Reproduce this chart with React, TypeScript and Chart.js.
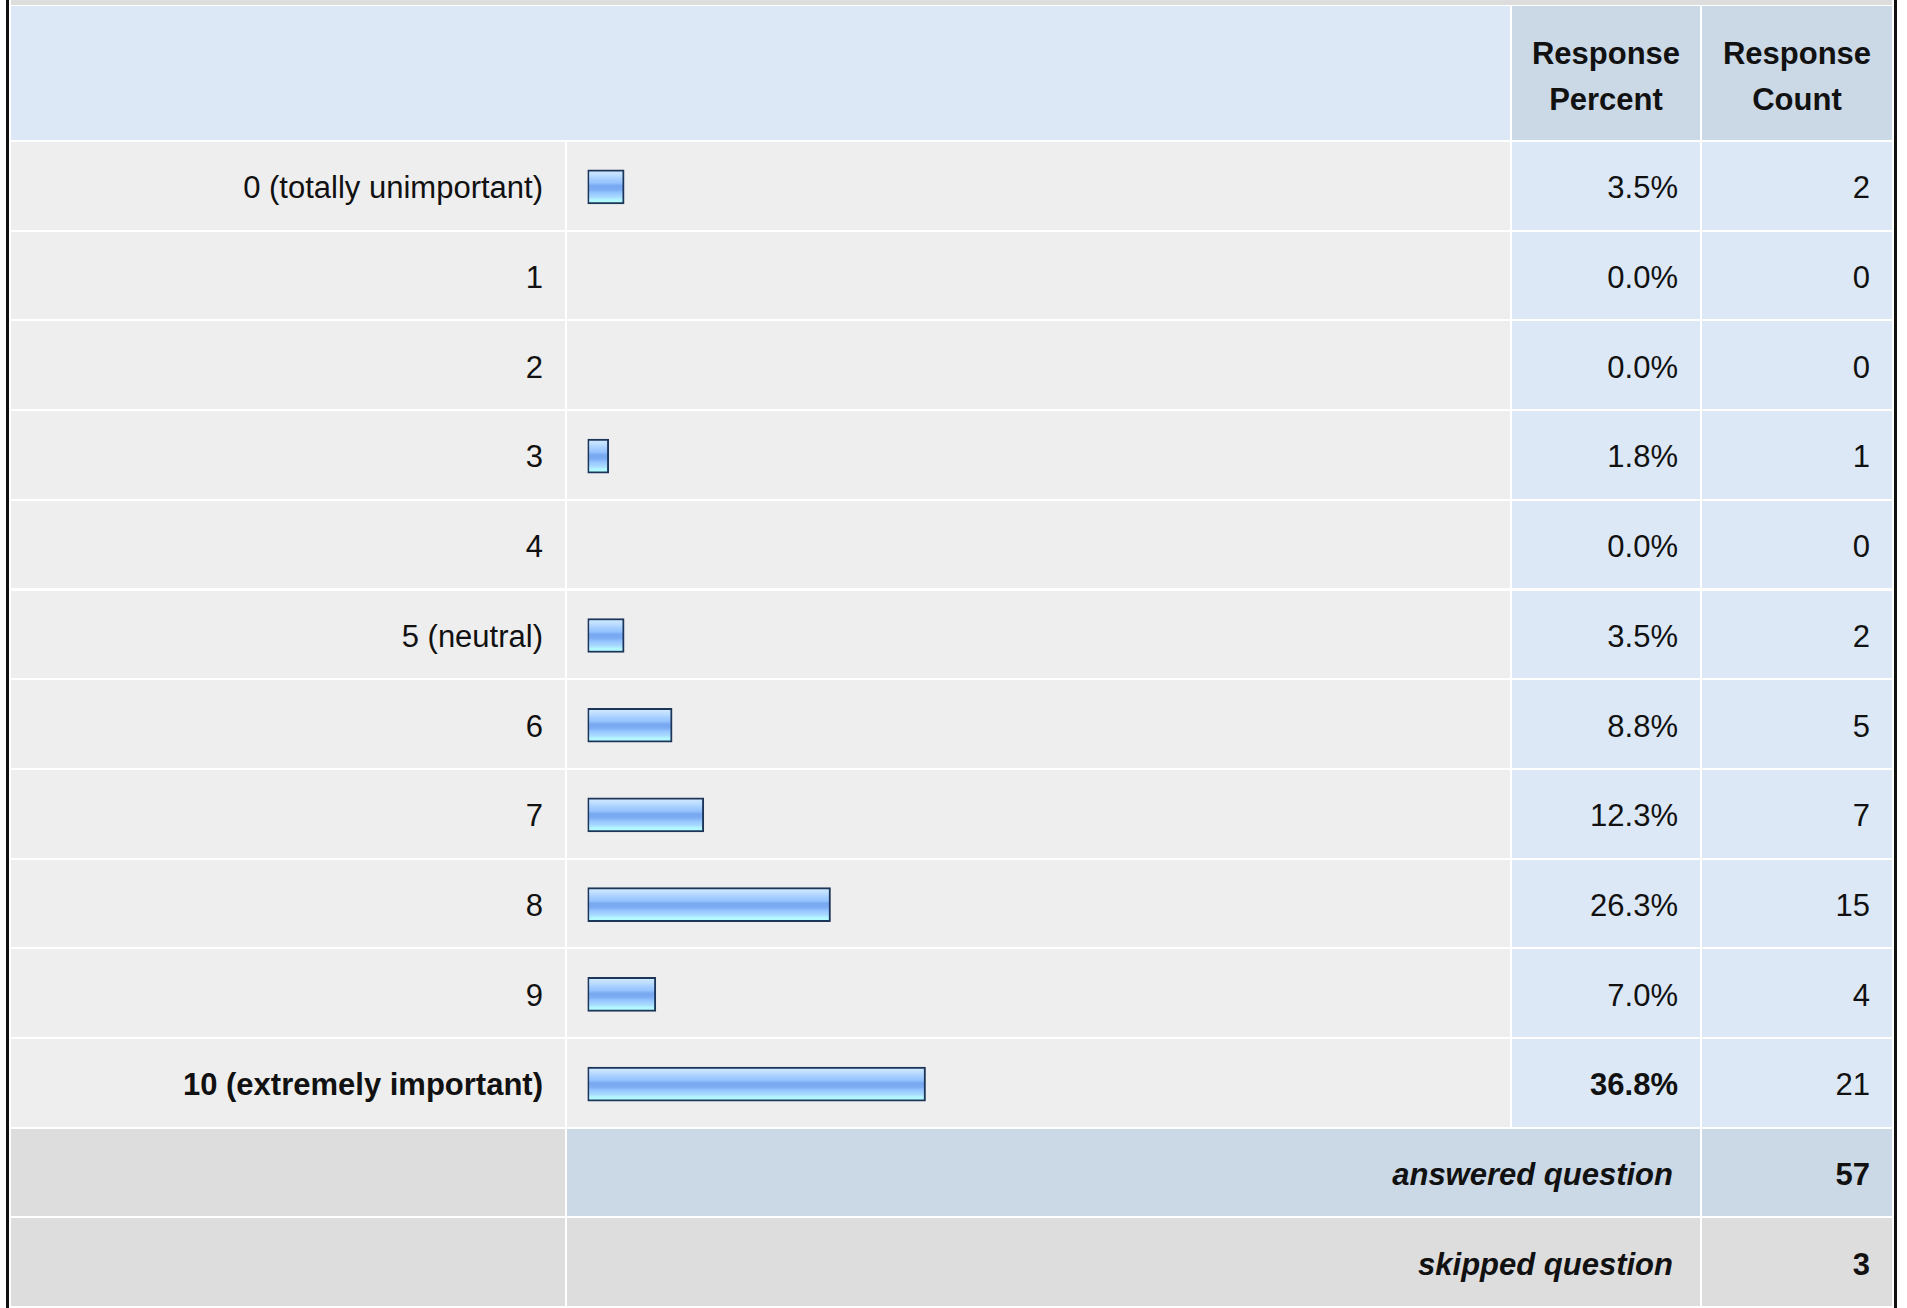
import React, { useEffect, useRef } from "react";
import { Chart, registerables } from "chart.js";

Chart.register(...registerables);

const CATEGORIES: string[] = [
  "0 (totally unimportant)",
  "1",
  "2",
  "3",
  "4",
  "5 (neutral)",
  "6",
  "7",
  "8",
  "9",
  "10 (extremely important)",
];
const PERCENTS: number[] = [3.5, 0.0, 0.0, 1.8, 0.0, 3.5, 8.8, 12.3, 26.3, 7.0, 36.8];
const COUNTS: number[] = [2, 0, 0, 1, 0, 2, 5, 7, 15, 4, 21];
const HIGHLIGHT_INDEX = 10;
const HEADER_PERCENT: string[] = ["Response", "Percent"];
const HEADER_COUNT: string[] = ["Response", "Count"];
const ANSWERED_LABEL = "answered question";
const SKIPPED_LABEL = "skipped question";
const ANSWERED = 57;
const SKIPPED = 3;
const BAR_BASE = -0.55;
const AXIS_MAX = 100;

// layout
const FONT = '"Liberation Sans", Arial, Helvetica, sans-serif';
const FS = 31;
const COL_LABEL = [11, 565];
const COL_BAR = [567, 1510];
const COL_PCT = [1512, 1700];
const COL_CNT = [1702, 1892];
const HEADER_TOP = 6;
const HEADER_BOTTOM = 140;
const ROW_TOP = 142;
const PITCH = 89.7;
const CELL_H = 87.7;

const C_LIGHTBLUE = "#dce8f5";
const C_BLUE = "#cbd8e6";
const C_GRAY = "#eeeeee";
const C_DARKGRAY = "#dddddd";
const C_TEXT = "#111111";

type CellProps = {
  x0: number;
  x1: number;
  top: number;
  height: number;
  bg: string;
  text?: React.ReactNode;
  align?: "right" | "center";
  bold?: boolean;
  italic?: boolean;
  padRight?: number;
  padTop?: number;
};

function Cell({ x0, x1, top, height, bg, text, align = "right", bold, italic, padRight = 22, padTop = 5 }: CellProps) {
  return (
    <div
      style={{
        position: "absolute",
        left: x0,
        top,
        width: x1 - x0,
        height,
        background: bg,
        display: "flex",
        alignItems: "center",
        justifyContent: align === "right" ? "flex-end" : "center",
        boxSizing: "border-box",
        paddingRight: align === "right" ? padRight : 0,
        paddingTop: padTop,
        fontFamily: FONT,
        fontSize: FS,
        fontWeight: bold ? 700 : 400,
        fontStyle: italic ? "italic" : "normal",
        color: C_TEXT,
        textAlign: align,
        lineHeight: "46px",
        whiteSpace: "nowrap",
      }}
    >
      {text}
    </div>
  );
}

function BarChart() {
  const ref = useRef<HTMLCanvasElement | null>(null);
  useEffect(() => {
    if (!ref.current) return;
    const chart = new Chart(ref.current, {
      type: "bar",
      data: {
        labels: CATEGORIES,
        datasets: [
          {
            data: PERCENTS.map((p) => (p > 0 ? [BAR_BASE, p] : null)) as any,
            barThickness: 34,
            borderWidth: 2,
            borderColor: "#1c3558",
            borderSkipped: false,
            backgroundColor: (ctx: any) => {
              const c = ctx.chart;
              const ys = c.scales && c.scales.y;
              if (!ys || ctx.dataIndex == null) return "#92c0ff";
              const yc = ys.getPixelForValue(ctx.dataIndex);
              if (!Number.isFinite(yc)) return "#92c0ff";
              const g = c.ctx.createLinearGradient(0, yc - 17, 0, yc + 17);
              g.addColorStop(0.0, "#d2eaff");
              g.addColorStop(0.14, "#c0e0ff");
              g.addColorStop(0.26, "#a8d0ff");
              g.addColorStop(0.38, "#96c4ff");
              g.addColorStop(0.47, "#78a8f0");
              g.addColorStop(0.58, "#7cacf2");
              g.addColorStop(0.68, "#96c6ff");
              g.addColorStop(0.8, "#a8daff");
              g.addColorStop(0.88, "#b2f6ff");
              g.addColorStop(1.0, "#b4ffff");
              return g;
            },
          },
        ],
      },
      options: {
        indexAxis: "y",
        animation: false,
        responsive: false,
        devicePixelRatio: 1,
        events: [],
        layout: { padding: { left: 20.5, right: 12.5, top: 0, bottom: 0 } },
        plugins: { legend: { display: false }, tooltip: { enabled: false } },
        scales: {
          x: { type: "linear", min: BAR_BASE, max: AXIS_MAX, display: false },
          y: { type: "category", display: false, offset: true },
        },
      },
    });
    return () => chart.destroy();
  }, []);
  const h = Math.round(CATEGORIES.length * PITCH);
  return (
    <canvas
      ref={ref}
      width={COL_BAR[1] - COL_BAR[0]}
      height={h}
      style={{
        position: "absolute",
        left: COL_BAR[0],
        top: ROW_TOP,
        width: COL_BAR[1] - COL_BAR[0],
        height: h,
      }}
    />
  );
}

export default function App() {
  const rowTop = (i: number) => ROW_TOP + i * PITCH;
  const n = CATEGORIES.length;
  return (
    <div
      style={{
        position: "absolute",
        left: 0,
        top: 0,
        width: 1907,
        height: 1308,
        background: "#ffffff",
        overflow: "hidden",
      }}
    >
      {/* outer black borders */}
      <div style={{ position: "absolute", left: 6, top: 0, width: 3, height: 1308, background: "#111" }} />
      <div style={{ position: "absolute", left: 1894, top: 0, width: 3, height: 1308, background: "#111" }} />
      {/* previous row strip */}
      <div style={{ position: "absolute", left: COL_LABEL[0], top: 0, width: COL_CNT[1] - COL_LABEL[0], height: 5, background: C_DARKGRAY }} />

      {/* header */}
      <Cell x0={COL_LABEL[0]} x1={COL_BAR[1]} top={HEADER_TOP} height={HEADER_BOTTOM - HEADER_TOP} bg={C_LIGHTBLUE} />
      <Cell
        x0={COL_PCT[0]}
        x1={COL_PCT[1]}
        top={HEADER_TOP}
        height={HEADER_BOTTOM - HEADER_TOP}
        bg={C_BLUE}
        align="center"
        bold
        padTop={8}
        text={
          <span>
            {HEADER_PERCENT[0]}
            <br />
            {HEADER_PERCENT[1]}
          </span>
        }
      />
      <Cell
        x0={COL_CNT[0]}
        x1={COL_CNT[1]}
        top={HEADER_TOP}
        height={HEADER_BOTTOM - HEADER_TOP}
        bg={C_BLUE}
        align="center"
        bold
        padTop={8}
        text={
          <span>
            {HEADER_COUNT[0]}
            <br />
            {HEADER_COUNT[1]}
          </span>
        }
      />

      {/* data rows */}
      {CATEGORIES.map((cat, i) => (
        <React.Fragment key={cat}>
          <Cell x0={COL_LABEL[0]} x1={COL_LABEL[1]} top={rowTop(i)} height={CELL_H} bg={C_GRAY} text={cat} bold={i === HIGHLIGHT_INDEX} />
          <Cell x0={COL_BAR[0]} x1={COL_BAR[1]} top={rowTop(i)} height={CELL_H} bg={C_GRAY} />
          <Cell
            x0={COL_PCT[0]}
            x1={COL_PCT[1]}
            top={rowTop(i)}
            height={CELL_H}
            bg={C_LIGHTBLUE}
            text={PERCENTS[i].toFixed(1) + "%"}
            bold={i === HIGHLIGHT_INDEX}
          />
          <Cell x0={COL_CNT[0]} x1={COL_CNT[1]} top={rowTop(i)} height={CELL_H} bg={C_LIGHTBLUE} text={String(COUNTS[i])} />
        </React.Fragment>
      ))}

      {/* footer rows */}
      <Cell x0={COL_LABEL[0]} x1={COL_LABEL[1]} top={rowTop(n)} height={CELL_H} bg={C_DARKGRAY} />
      <Cell x0={COL_BAR[0]} x1={COL_PCT[1]} top={rowTop(n)} height={CELL_H} bg={C_BLUE} text={ANSWERED_LABEL} bold italic padRight={27} />
      <Cell x0={COL_CNT[0]} x1={COL_CNT[1]} top={rowTop(n)} height={CELL_H} bg={C_BLUE} text={String(ANSWERED)} bold />

      <Cell x0={COL_LABEL[0]} x1={COL_LABEL[1]} top={rowTop(n + 1)} height={CELL_H} bg={C_DARKGRAY} />
      <Cell x0={COL_BAR[0]} x1={COL_PCT[1]} top={rowTop(n + 1)} height={CELL_H} bg={C_DARKGRAY} text={SKIPPED_LABEL} bold italic padRight={27} />
      <Cell x0={COL_CNT[0]} x1={COL_CNT[1]} top={rowTop(n + 1)} height={CELL_H} bg={C_DARKGRAY} text={String(SKIPPED)} bold />

      <BarChart />
    </div>
  );
}
